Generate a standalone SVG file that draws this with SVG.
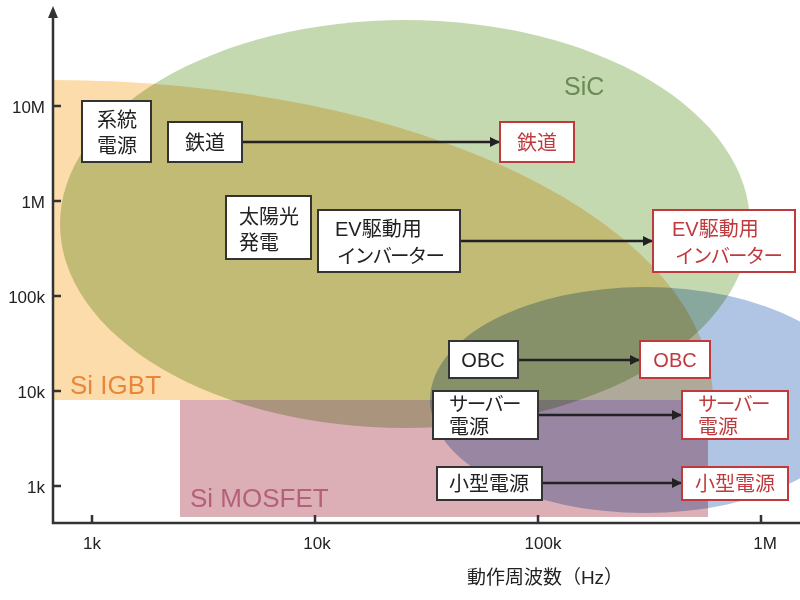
<svg xmlns="http://www.w3.org/2000/svg" width="800" height="600" viewBox="0 0 800 600">
<defs>
<style>
text{font-family:"Liberation Sans","Noto Sans CJK JP",sans-serif;}
.reg{mix-blend-mode:multiply;}
.box{fill:#fff;stroke:#333;stroke-width:2;}
.rbox{fill:#fff;stroke:#c03a3d;stroke-width:2;}
.t{font-size:20px;fill:#222;}
.rt{font-size:20px;fill:#c03a3d;}
.k{font-size:19.5px;letter-spacing:-1.8px;}
.tick{font-size:17px;fill:#222;}
.conn{stroke:#222;stroke-width:2.5;fill:none;marker-end:url(#ah);}
.axis{stroke:#333;stroke-width:2.5;fill:none;}
</style>
<marker id="ah" viewBox="0 0 10 10" refX="9" refY="5" markerWidth="4" markerHeight="4" orient="auto" markerUnits="strokeWidth">
<path d="M0,0 L10,5 L0,10 z" fill="#222"/>
</marker>
</defs>
<rect width="800" height="600" fill="#fff"/>
<g id="regions">
<path class="reg" d="M53,80 A660,320 0 0 1 713,400 L53,400 Z" fill="#fcdcaa"/>
<ellipse class="reg" cx="405" cy="224" rx="345" ry="204" fill="#c5d9b0"/>
<rect class="reg" x="180" y="400" width="528" height="117" fill="#dcaeb5"/>
<ellipse class="reg" cx="645" cy="400" rx="215" ry="113" fill="#b0c4e4"/>
<text x="564" y="95" font-size="25" fill="#6a8a55">SiC</text>
<text x="70" y="394" font-size="26" fill="#e8873a">Si IGBT</text>
<text x="190" y="507" font-size="26" fill="#b5607a">Si MOSFET</text>
</g>
<g id="axes">
<path class="axis" d="M53,14 L53,523 L800,523"/>
<path d="M53,6 L48,18 L58,18 Z" fill="#333"/>
<path class="axis" d="M53,106 H61 M53,201 H61 M53,296 H61 M53,391 H61 M53,486 H61"/>
<path class="axis" d="M92,523 V515 M315,523 V515 M538,523 V515 M761,523 V515"/>
<g class="tick" text-anchor="end">
<text x="45" y="113">10M</text>
<text x="45" y="208">1M</text>
<text x="45" y="303">100k</text>
<text x="45" y="398">10k</text>
<text x="45" y="493">1k</text>
</g>
<g class="tick" text-anchor="middle">
<text x="92" y="549">1k</text>
<text x="317" y="549">10k</text>
<text x="543" y="549">100k</text>
<text x="765" y="549">1M</text>
</g>
<text x="545" y="584" font-size="19" fill="#222" text-anchor="middle">動作周波数（Hz）</text>
</g>
<g id="connectors">
<line class="conn" x1="242" y1="142" x2="499" y2="142"/>
<line class="conn" x1="460" y1="241" x2="652" y2="241"/>
<line class="conn" x1="518" y1="360" x2="639" y2="360"/>
<line class="conn" x1="538" y1="415" x2="681" y2="415"/>
<line class="conn" x1="542" y1="483" x2="681" y2="483"/>
</g>
<g id="n-keito">
<rect class="box" x="82" y="101" width="69" height="61"/>
<text class="t" x="117" y="127" text-anchor="middle">系統</text>
<text class="t" x="117" y="153" text-anchor="middle">電源</text>
</g>
<g id="n-tetsudo">
<rect class="box" x="168" y="122" width="74" height="40"/>
<text class="t" x="205" y="150" text-anchor="middle">鉄道</text>
</g>
<g id="n-taiyoko">
<rect class="box" x="226" y="196" width="85" height="63"/>
<text class="t" x="239" y="224">太陽光</text>
<text class="t" x="239" y="250">発電</text>
</g>
<g id="n-ev">
<rect class="box" x="318" y="210" width="142" height="62"/>
<text class="t" x="335" y="236">EV駆動用</text>
<text class="t k" x="337" y="263">インバーター</text>
</g>
<g id="n-obc">
<rect class="box" x="449" y="341" width="69" height="37"/>
<text class="t" x="483" y="367" text-anchor="middle">OBC</text>
</g>
<g id="n-server">
<rect class="box" x="433" y="391" width="105" height="48"/>
<text class="t k" x="449" y="411">サーバー</text>
<text class="t" x="449" y="434">電源</text>
</g>
<g id="n-small">
<rect class="box" x="437" y="467" width="105" height="33"/>
<text class="t" x="489" y="491" text-anchor="middle">小型電源</text>
</g>
<g id="r-tetsudo">
<rect class="rbox" x="500" y="122" width="74" height="40"/>
<text class="rt" x="537" y="150" text-anchor="middle">鉄道</text>
</g>
<g id="r-ev">
<rect class="rbox" x="653" y="210" width="142" height="62"/>
<text class="rt" x="672" y="236">EV駆動用</text>
<text class="rt k" x="675" y="263">インバーター</text>
</g>
<g id="r-obc">
<rect class="rbox" x="640" y="341" width="70" height="37"/>
<text class="rt" x="675" y="367" text-anchor="middle">OBC</text>
</g>
<g id="r-server">
<rect class="rbox" x="682" y="391" width="106" height="48"/>
<text class="rt k" x="698" y="411">サーバー</text>
<text class="rt" x="698" y="434">電源</text>
</g>
<g id="r-small">
<rect class="rbox" x="682" y="467" width="106" height="33"/>
<text class="rt" x="735" y="491" text-anchor="middle">小型電源</text>
</g>
</svg>
